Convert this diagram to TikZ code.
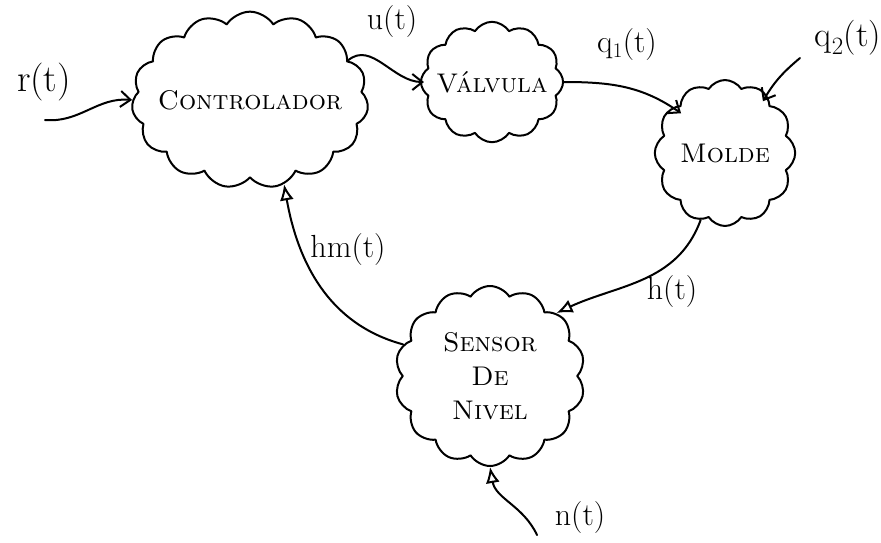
\documentclass[tikz,border=0pt]{standalone}
\usetikzlibrary{shapes.symbols,arrows.meta}
\begin{document}
\begin{tikzpicture}[x=1pt,y=-1pt,
  ln/.style={line width=2pt,line cap=round,line join=round},
  blk/.style={ln,draw,cloud,cloud puffs=#1,cloud puff arc=115,inner sep=0pt,font=\fontsize{27}{30}\selectfont\scshape,align=center},
  lbl/.style={font=\fontsize{32}{34}\selectfont},
  barb/.style={ln,-{Straight Barb[length=10pt,width=16pt,line width=2pt]}},
  tri/.style={ln,-{Latex[open,length=16pt,width=14pt,line width=2pt]}}]
\useasboundingbox (0,0) rectangle (881,542);
\node[blk=15,aspect=1.45,inner xsep=-13pt] (ctrl) at (250,100) {Controlador};
\node[blk=12,aspect=1.25,inner xsep=-9pt] (valv) at (492,82) {V\'alvula};
\node[blk=12,aspect=1,minimum width=138pt,minimum height=146pt] (mold) at (725,153) {Molde};
\node[blk=14,aspect=1,inner sep=-10pt,minimum width=190pt,minimum height=180pt] (sens) at (490,376) {Sensor\\[4pt]De\\[4pt]Nivel};
\coordinate (rin) at (45,120);
\coordinate (q2in) at (800,58);
\coordinate (nin) at (537,535);
\node[lbl,font=\fontsize{38}{40}\selectfont] (rl) at (44,82) {r(t)};
\node[lbl] (ul) at (392,22) {u(t)};
\node[lbl] (q1l) at (627,45) {q$_1$(t)};
\node[lbl,font=\fontsize{35}{38}\selectfont] (q2l) at (848,38) {q$_2$(t)};
\node[lbl] (hl) at (672,292) {h(t)};
\node[lbl] (hml) at (348,250) {hm(t)};
\node[lbl] (nl) at (580,518) {n(t)};
\draw[barb] (rin) to[out=-5,in=175] (ctrl.west);
\draw[barb] (ctrl.22) to[out=40,in=180] ([xshift=4pt]valv.west);
\draw[barb] (valv.east) to[out=0,in=145] ([xshift=2pt,yshift=-8pt]mold.north west);
\draw[barb] (q2in) to[out=-140,in=60] ([xshift=-8pt,yshift=4pt]mold.north east);
\draw[tri] (mold.-110) to[out=-110,in=25] (sens.north east);
\draw[tri] (sens.160) to[out=165,in=-80] (ctrl.-68);
\draw[tri] (nin) to[out=115,in=-80] (sens.south);
\end{tikzpicture}
\end{document}
